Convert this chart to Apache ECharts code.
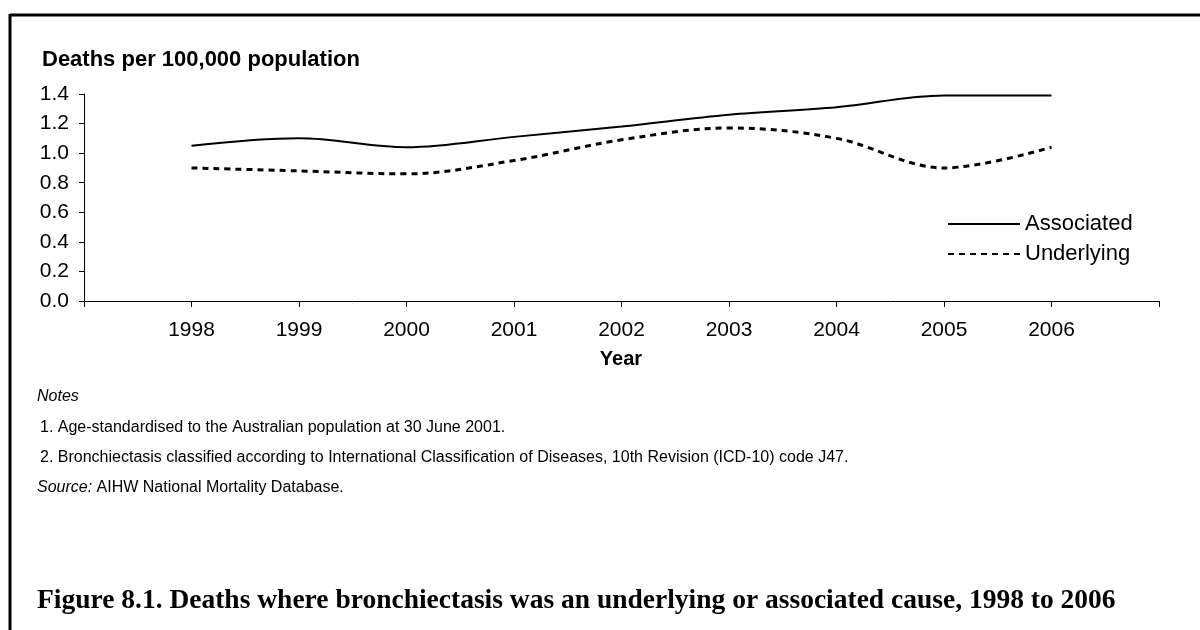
<!DOCTYPE html>
<html>
<head>
<meta charset="utf-8">
<script src="https://cdn.jsdelivr.net/npm/echarts@6/dist/echarts.min.js"></script>
<style>
html,body{margin:0;padding:0;background:#fff;}
#chart{width:1200px;height:630px;}
</style>
</head>
<body>
<div id="chart"></div>
<script>
const years = [1998, 1999, 2000, 2001, 2002, 2003, 2004, 2005, 2006];
const associated = [1.05, 1.10, 1.04, 1.11, 1.18, 1.26, 1.31, 1.39, 1.39];
const underlying = [0.90, 0.88, 0.86, 0.95, 1.09, 1.17, 1.10, 0.90, 1.04];
const seriesNames = ['Associated', 'Underlying'];
const yAxisTitle = 'Deaths per 100,000 population';
const xAxisTitle = 'Year';
const notesTitle = 'Notes';
const note1 = '1. Age-standardised to the Australian population at 30 June 2001.';
const note2 = '2. Bronchiectasis classified according to International Classification of Diseases, 10th Revision (ICD-10) code J47.';
const sourceLabel = 'Source:';
const sourceText = ' AIHW National Mortality Database.';
const caption = 'Figure 8.1. Deaths where bronchiectasis was an underlying or associated cause, 1998 to 2006';

const SANS = '"Liberation Sans", Arial, sans-serif';
const chart = echarts.init(document.getElementById('chart'), null, {renderer: 'canvas'});

const pair = (xs, ys) => xs.map((x, i) => [x, ys[i]]);

chart.setOption({
  animation: false,
  backgroundColor: '#ffffff',
  grid: {left: 84, right: 41, top: 94, bottom: 329, containLabel: false},
  xAxis: {
    type: 'value', min: 1997, max: 2007, interval: 1,
    axisLine: {show: true, lineStyle: {color: '#000', width: 1}},
    axisTick: {show: true, length: 6, lineStyle: {color: '#000'}},
    splitLine: {show: false},
    axisLabel: {
      margin: 19, color: '#000', fontFamily: SANS, fontSize: 21,
      formatter: v => (years.indexOf(v) >= 0 ? String(v) : '')
    }
  },
  yAxis: {
    type: 'value', min: 0, max: 1.4, interval: 0.2,
    axisLine: {show: true, lineStyle: {color: '#000', width: 1}},
    axisTick: {show: true, length: 5, lineStyle: {color: '#000'}},
    splitLine: {show: false},
    axisLabel: {
      margin: 15, color: '#000', fontFamily: SANS, fontSize: 21,
      formatter: v => v.toFixed(1)
    }
  },
  legend: {
    orient: 'vertical', left: 942, top: 208,
    itemWidth: 72, itemHeight: 14, itemGap: 8,
    itemStyle: {opacity: 0},
    textStyle: {color: '#000', fontFamily: SANS, fontSize: 22, lineHeight: 22},
    data: seriesNames
  },
  series: [
    {
      name: seriesNames[0], type: 'line', data: pair(years, associated),
      smooth: 0.35, symbol: 'none',
      lineStyle: {color: '#000', width: 2, type: 'solid'},
      itemStyle: {color: '#000'}
    },
    {
      name: seriesNames[1], type: 'line', data: pair(years, underlying),
      smooth: 0.35, symbol: 'none',
      lineStyle: {color: '#000', width: 3, type: [6, 5]},
      itemStyle: {color: '#000'}
    }
  ],
  graphic: [
    {type: 'line', shape: {x1: 10, y1: 15, x2: 1200, y2: 15}, style: {stroke: '#000', lineWidth: 3}},
    {type: 'line', shape: {x1: 10, y1: 14, x2: 10, y2: 630}, style: {stroke: '#000', lineWidth: 3}},
    {type: 'text', x: 42, y: 60, style: {text: yAxisTitle, fill: '#000', font: 'bold 22px ' + SANS, textVerticalAlign: 'middle'}},
    {type: 'text', x: 621, y: 359, style: {text: xAxisTitle, fill: '#000', font: 'bold 20px ' + SANS, textAlign: 'center', textVerticalAlign: 'middle'}},
    {type: 'text', x: 37, y: 397, style: {text: notesTitle, fill: '#000', font: 'italic 16px ' + SANS, textVerticalAlign: 'middle'}},
    {type: 'text', x: 40, y: 428, style: {text: note1, fill: '#000', font: '16px ' + SANS, textVerticalAlign: 'middle'}},
    {type: 'text', x: 40, y: 458, style: {text: note2, fill: '#000', font: '16px ' + SANS, textVerticalAlign: 'middle'}},
    {type: 'text', x: 37, y: 488, style: {
      text: '{i|' + sourceLabel + '}{n|' + sourceText + '}', textVerticalAlign: 'middle',
      rich: {i: {fontStyle: 'italic', fontSize: 16, fontFamily: SANS, fill: '#000'}, n: {fontSize: 16, fontFamily: SANS, fill: '#000'}}
    }},
    {type: 'text', x: 37, y: 601, style: {text: caption, fill: '#000', font: 'bold 27.5px "Liberation Serif", "Times New Roman", serif', textVerticalAlign: 'middle'}}
  ]
});
</script>
</body>
</html>
